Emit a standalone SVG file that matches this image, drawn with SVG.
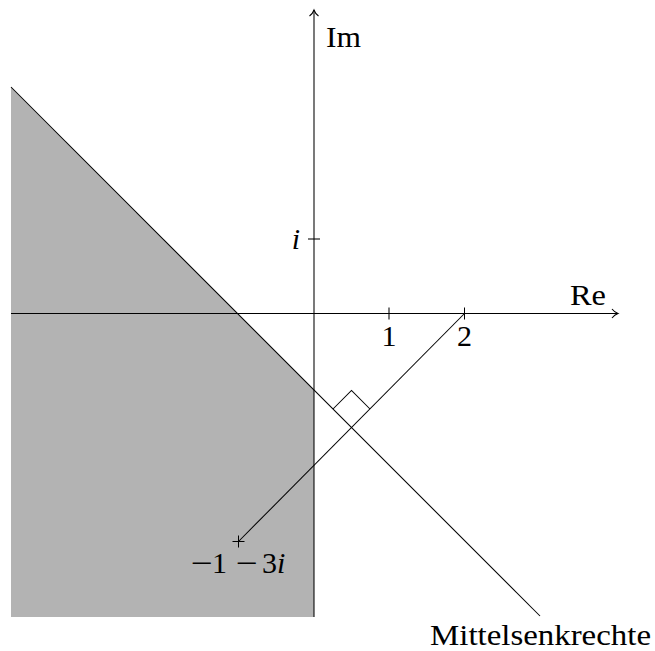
<svg xmlns="http://www.w3.org/2000/svg" width="655" height="651" viewBox="0 0 655 651">
<style>
.ln{stroke:#000;stroke-width:1.05;fill:none}
.t{font-family:"Liberation Serif","Times New Roman",serif;font-size:30px;fill:#000}
.it{font-style:italic}
</style>
<rect width="655" height="651" fill="#fff"/>
<g id="region">
<polygon points="11,87 314,390 314,617 11,617" fill="#b3b3b3"/>
</g>
<g id="connectors">
<line class="ln" x1="11" y1="313.5" x2="617" y2="313.5"/>
<path class="ln" d="M612,309 Q614.5,312.3 618,313.5 Q614.5,314.7 612,318"/>
<line class="ln" x1="314" y1="617" x2="314" y2="10"/>
<path class="ln" d="M309.5,16 Q312.8,13.5 314,10 Q315.2,13.5 318.5,16"/>
<line class="ln" x1="11" y1="87" x2="540" y2="616"/>
<line class="ln" x1="238.5" y1="541.5" x2="464.5" y2="313.5"/>
<polyline class="ln" points="333,409 351.5,390.5 370,409"/>
</g>
<g id="ticks">
<line class="ln" x1="389" y1="307.5" x2="389" y2="319.5"/>
<line class="ln" x1="464.5" y1="307.5" x2="464.5" y2="319.5"/>
<line class="ln" x1="308" y1="239" x2="320" y2="239"/>
<line class="ln" x1="232.5" y1="541.5" x2="244.5" y2="541.5"/>
<line class="ln" x1="238.5" y1="535.5" x2="238.5" y2="547.5"/>
</g>
<g id="labels">
<text class="t" x="326" y="47" textLength="35" lengthAdjust="spacingAndGlyphs">Im</text>
<text class="t" x="570" y="305" textLength="36" lengthAdjust="spacingAndGlyphs">Re</text>
<text class="t" x="389" y="346" text-anchor="middle">1</text>
<text class="t" x="464.5" y="346" text-anchor="middle">2</text>
<text class="t it" x="300" y="249" text-anchor="end">i</text>
<text class="t" x="191" y="573" textLength="22" lengthAdjust="spacingAndGlyphs">−</text>
<text class="t" x="212" y="573">1</text>
<text class="t" x="236" y="573" textLength="22" lengthAdjust="spacingAndGlyphs">−</text>
<text class="t" x="262" y="573">3<tspan class="it">i</tspan></text>
<text class="t" x="430" y="645" font-size="28" textLength="221" lengthAdjust="spacingAndGlyphs">Mittelsenkrechte</text>
</g>
</svg>
